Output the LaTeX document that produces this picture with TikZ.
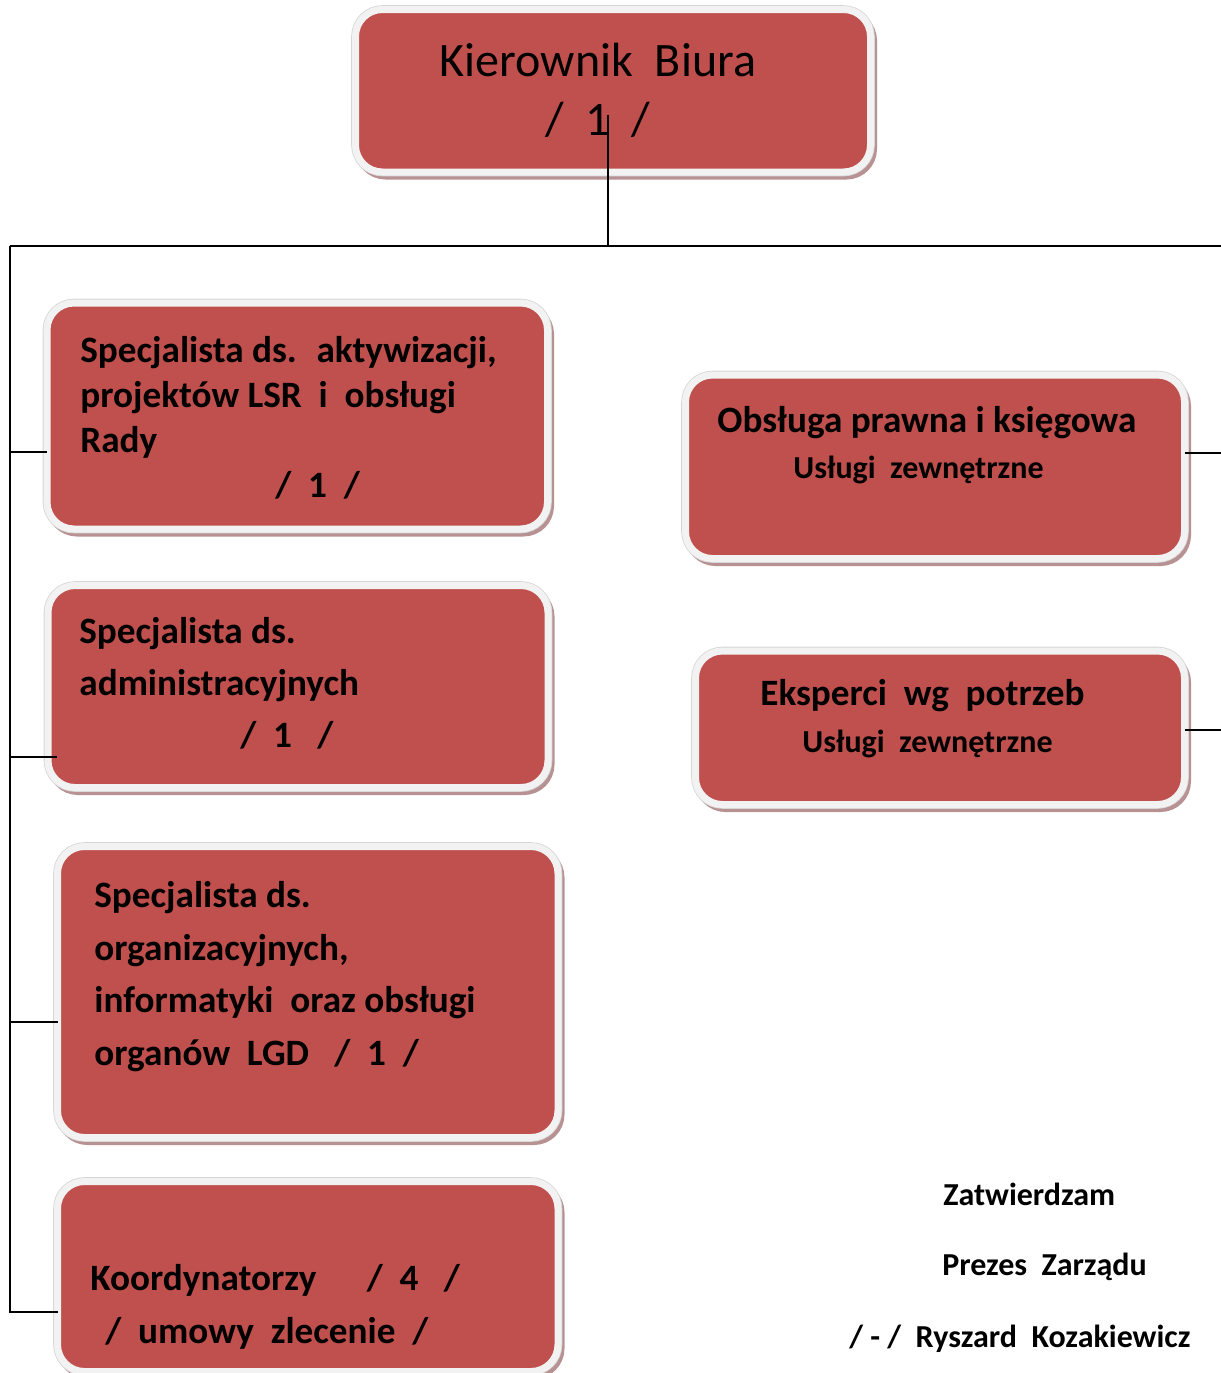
\documentclass[tikz,border=0pt]{standalone}
\usepackage{fontspec}
\setmainfont{Carlito}
\usepackage{tikz}
\usetikzlibrary{positioning}
\definecolor{boxred}{RGB}{192,80,77}
\definecolor{boxrim}{RGB}{242,242,242}
\definecolor{rimline}{RGB}{214,214,214}
\definecolor{boxshadow}{RGB}{184,146,146}

\begin{document}
\begin{tikzpicture}[x=0.5pt, y=-0.5pt,
    unit/.style={rectangle, draw=boxrim, line width=3.5pt, fill=boxred,
      rounded corners=13.5pt, inner sep=0pt, outer sep=0pt, anchor=north west,
      preaction={draw=boxshadow, fill=boxshadow, line width=3.5pt,
        transform canvas={xshift=1.5pt, yshift=-2pt}},
      preaction={draw=rimline, line width=4.3pt}},
    boxtxt/.style={anchor=base west, align=left, inner sep=0pt,
      font=\bfseries\fontsize{18.6}{26}\selectfont},
    subtxt/.style={anchor=base west, inner sep=0pt,
      font=\bfseries\fontsize{16}{19}\selectfont},
    conn/.style={line width=1pt}]
  \useasboundingbox (0,0) rectangle (1221,1373);

  % boxes
  \node[unit, minimum width=257.5pt, minimum height=81.25pt] (kb) at (355.5,9.5) {};
  \node[unit, minimum width=250.25pt, minimum height=113pt] (spec1) at (47,303) {};
  \node[unit, minimum width=250pt, minimum height=101pt] (spec2) at (48,585.5) {};
  \node[unit, minimum width=250.25pt, minimum height=145.5pt] (spec3) at (57.5,846.5) {};
  \node[unit, minimum width=250.25pt, minimum height=95pt] (koord) at (57.5,1181.5) {};
  \node[unit, minimum width=249.5pt, minimum height=91.75pt] (obs) at (685.5,375) {};
  \node[unit, minimum width=244.5pt, minimum height=76.75pt] (eksp) at (695.5,651) {};

  % texts (base = last line)
  \node[anchor=base, align=center, inner sep=0pt, font=\fontsize{24}{29.5}\selectfont]
    (kbtxt) at (598,135) {Kierownik~ Biura\\/~ 1~ /};
  \node[boxtxt, font=\bfseries\fontsize{18.6}{22.5}\selectfont] (spec1txt) at (80,497)
    {Specjalista ds.~ aktywizacji,\\projektów LSR~ i~ obsługi\\Rady\\\hspace*{97.5pt}/~ 1~ /};
  \node[boxtxt] (spec2txt) at (79,747)
    {Specjalista ds.\\administracyjnych\\\hspace*{80.5pt}/~ 1~~ /};
  \node[boxtxt, font=\bfseries\fontsize{18.6}{26.2}\selectfont] (spec3txt) at (94,1065)
    {Specjalista ds.\\organizacyjnych,\\informatyki~ oraz obsługi\\organów~ LGD~~ /~ 1~ /};
  \node[boxtxt, font=\bfseries\fontsize{18.6}{26.5}\selectfont] (koordtxt) at (90,1343)
    {Koordynatorzy~~~~~ /~ 4~~ /\\\hspace*{7.5pt}/~ umowy~ zlecenie~ /};
  \node[boxtxt] (obstxt) at (717,432) {Obsługa prawna i księgowa};
  \node[subtxt] (obssub) at (793,478) {Usługi~ zewnętrzne};
  \node[boxtxt] (eksptxt) at (760,705) {Eksperci~ wg~ potrzeb};
  \node[subtxt] (ekspsub) at (802,752) {Usługi~ zewnętrzne};

  % signature
  \node[subtxt] (zatw) at (943,1205) {Zatwierdzam};
  \node[subtxt] (prezes) at (942,1275) {Prezes~ Zarządu};
  \node[subtxt] (podpis) at (849,1347) {/ - /~ Ryszard~ Kozakiewicz};

  % connectors
  \coordinate (hub) at (608,246);
  \coordinate (busL) at (10,246);
  \coordinate (busR) at (1224,246);
  \path (hub |- kb.center) ++(0,24) coordinate (kbfoot);
  \draw[conn] (kbfoot) -- (hub);
  \draw[conn] (busL) -- (busR);
  \draw[conn] (busL) |- (koord.west |- 0,1312);
  \draw[conn] (busL |- 0,452) -- (spec1.west |- 0,452);
  \draw[conn] (busL |- 0,757) -- ([xshift=4.5pt]spec2.west |- 0,757);
  \draw[conn] (busL |- 0,1022) -- (spec3.west |- 0,1022);
  \draw[conn] (obs.east |- 0,453) -- (busR |- 0,453);
  \draw[conn] (eksp.east |- 0,730) -- (busR |- 0,730);
\end{tikzpicture}
\end{document}
